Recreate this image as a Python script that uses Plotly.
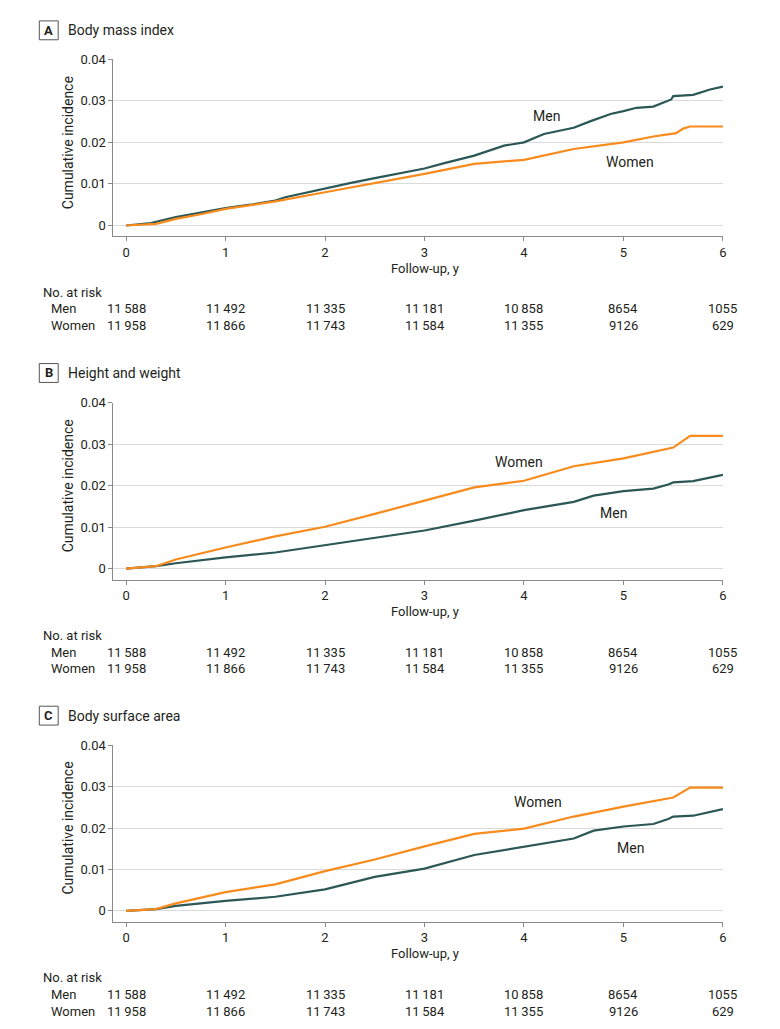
import plotly.graph_objects as go

# ---------------- data ----------------
panel_letters = ["A", "B", "C"]
panel_titles = ["Body mass index", "Height and weight", "Body surface area"]

# Panel A – Body mass index
a_men_t = [0, 0.1, 0.25, 0.5, 0.75, 1.0, 1.25, 1.5, 1.6, 2.0, 2.25, 2.5, 2.73, 3.0, 3.2, 3.5, 3.8, 4.0, 4.2, 4.5, 4.67, 4.87, 5.0, 5.13, 5.3, 5.4, 5.48, 5.5, 5.7, 5.87, 6.0]
a_men_v = [0, 0.0003, 0.0006, 0.0020, 0.0031, 0.0042, 0.0050, 0.0060, 0.0068, 0.0090, 0.0102, 0.0114, 0.0124, 0.0137, 0.0150, 0.0168, 0.0192, 0.0200, 0.0220, 0.0235, 0.0251, 0.0268, 0.0275, 0.0283, 0.0286, 0.0295, 0.0303, 0.0311, 0.0314, 0.0327, 0.0334]
a_women_t = [0, 0.25, 0.3, 0.5, 0.75, 1.0, 1.25, 1.5, 2.0, 2.25, 2.5, 3.0, 3.5, 4.0, 4.5, 5.0, 5.3, 5.53, 5.6, 5.67, 6.0]
a_women_v = [0, 0.0002, 0.0004, 0.0016, 0.0027, 0.0040, 0.0049, 0.0058, 0.0080, 0.0091, 0.0103, 0.0124, 0.0148, 0.0158, 0.0184, 0.0200, 0.0214, 0.0222, 0.0233, 0.0238, 0.0238]

# Panel B – Height and weight
b_men_t = [0, 0.3, 0.5, 1.0, 1.5, 2.0, 2.5, 3.0, 3.5, 4.0, 4.5, 4.7, 5.0, 5.3, 5.45, 5.5, 5.7, 6.0]
b_men_v = [0, 0.0006, 0.0013, 0.0027, 0.0039, 0.0057, 0.0074, 0.0092, 0.0116, 0.0141, 0.0161, 0.0176, 0.0187, 0.0193, 0.0203, 0.0208, 0.0211, 0.0226]
b_women_t = [0, 0.3, 0.5, 1.0, 1.5, 2.0, 2.5, 2.73, 3.0, 3.5, 4.0, 4.5, 5.0, 5.5, 5.6, 5.67, 6.0]
b_women_v = [0, 0.0006, 0.0022, 0.0051, 0.0078, 0.0101, 0.0132, 0.0146, 0.0164, 0.0196, 0.0212, 0.0247, 0.0266, 0.0292, 0.0308, 0.0320, 0.0320]

# Panel C – Body surface area
c_men_t = [0, 0.3, 0.5, 1.0, 1.5, 2.0, 2.5, 3.0, 3.5, 4.0, 4.5, 4.7, 5.0, 5.3, 5.45, 5.5, 5.7, 6.0]
c_men_v = [0, 0.0004, 0.0012, 0.0024, 0.0034, 0.0052, 0.0082, 0.0102, 0.0135, 0.0155, 0.0175, 0.0194, 0.0204, 0.0210, 0.0222, 0.0228, 0.0230, 0.0246]
c_women_t = [0, 0.3, 0.5, 1.0, 1.5, 2.0, 2.5, 3.0, 3.5, 4.0, 4.5, 5.0, 5.5, 5.6, 5.67, 6.0]
c_women_v = [0, 0.0004, 0.0018, 0.0045, 0.0064, 0.0096, 0.0124, 0.0156, 0.0186, 0.0199, 0.0228, 0.0252, 0.0274, 0.0288, 0.0298, 0.0298]

# label positions (data coords) for series labels
label_pos = [
    {"Men": (4.23, 0.0263), "Women": (5.07, 0.0152)},
    {"Men": (4.90, 0.0134), "Women": (3.95, 0.0256)},
    {"Men": (5.07, 0.0152), "Women": (4.14, 0.0262)},
]

x_ticks = [0, 1, 2, 3, 4, 5, 6]
y_ticks = [0, 0.01, 0.02, 0.03, 0.04]
y_tick_labels = ["0", "0.01", "0.02", "0.03", "0.04"]
risk_men = ["11\u2009588", "11\u2009492", "11\u2009335", "11\u2009181", "10\u2009858", "8654", "1055"]
risk_women = ["11\u2009958", "11\u2009866", "11\u2009743", "11\u2009584", "11\u2009355", "9126", "629"]

series = [
    (a_men_t, a_men_v, a_women_t, a_women_v),
    (b_men_t, b_men_v, b_women_t, b_women_v),
    (c_men_t, c_men_v, c_women_t, c_women_v),
]

# ---------------- style / layout ----------------
W, H = 780, 1029
FONT = "Roboto, Arial, sans-serif"
MEN_C = "#2b5856"
WOMEN_C = "#f98a1c"
AXIS_C = "#8a8a8a"
GRID_C = "#dadada"
TXT_C = "#231f20"

def px_x(px):
    return px / W

def px_y(py):
    return 1 - py / H

panels_geo = [(52.5, 231.0), (398.5, 576.5), (743.5, 921.0)]
title_y = [23.5, 368.5, 713.5]
ytitle_y = [136.5, 482.0, 826.5]
x_left_px, x_right_px = 114.0, 726.7

fig = go.Figure()
annotations = []
shapes = []

for i, (top, bot) in enumerate(panels_geo):
    n = "" if i == 0 else str(i + 1)
    xa = "x" + n
    ya = "y" + n
    mt, mv, wt, wv = series[i]
    fig.add_trace(go.Scatter(x=mt, y=mv, mode="lines", line=dict(color=MEN_C, width=2.2),
                             xaxis=xa, yaxis=ya, showlegend=False, hoverinfo="skip"))
    fig.add_trace(go.Scatter(x=wt, y=wv, mode="lines", line=dict(color=WOMEN_C, width=2.2),
                             xaxis=xa, yaxis=ya, showlegend=False, hoverinfo="skip"))

    px_per = (bot - 11.0 - top) / 0.04
    ymin = -11.0 / px_per
    fig.update_layout(**{
        ("xaxis" + n): dict(
            domain=[px_x(x_left_px), px_x(x_right_px)], anchor=ya,
            range=[-0.127, 6.0], tickvals=x_ticks, ticktext=[str(v) for v in x_ticks],
            showgrid=False, zeroline=False, showline=True, linecolor=AXIS_C, linewidth=1,
            ticks="outside", ticklen=4, tickcolor=AXIS_C, tickwidth=1,
            tickfont=dict(family=FONT, size=13, color=TXT_C), fixedrange=True,
        ),
        ("yaxis" + n): dict(
            domain=[px_y(bot), px_y(top)], anchor=xa,
            range=[ymin, 0.04], tickvals=y_ticks, ticktext=y_tick_labels,
            showgrid=True, gridcolor=GRID_C, gridwidth=1, zeroline=False,
            showline=True, linecolor=AXIS_C, linewidth=1,
            ticks="outside", ticklen=4, tickcolor=AXIS_C, tickwidth=1,
            tickfont=dict(family=FONT, size=13, color=TXT_C), fixedrange=True,
        ),
    })

    for name, (lx, ly) in label_pos[i].items():
        annotations.append(dict(x=lx, y=ly, xref=xa, yref=ya, text=name, showarrow=False,
                                font=dict(family=FONT, size=14, color=TXT_C)))

    shapes.append(dict(type="rect", xref="paper", yref="paper",
                       x0=px_x(39.5), x1=px_x(58.5), y0=px_y(title_y[i] + 9.5), y1=px_y(title_y[i] - 9.5),
                       line=dict(color="#555555", width=1), fillcolor="white"))
    annotations.append(dict(x=px_x(49), y=px_y(title_y[i]), xref="paper", yref="paper",
                            text="<b>" + panel_letters[i] + "</b>", showarrow=False,
                            xanchor="center", yanchor="middle",
                            font=dict(family=FONT, size=13, color=TXT_C)))
    annotations.append(dict(x=px_x(66), y=px_y(title_y[i]), xref="paper", yref="paper",
                            text=panel_titles[i], showarrow=False, xanchor="left", yanchor="middle",
                            font=dict(family=FONT, size=14, color=TXT_C)))

    annotations.append(dict(x=px_x(68), y=px_y(ytitle_y[i]), xref="paper", yref="paper",
                            text="Cumulative incidence", textangle=-90, showarrow=False,
                            xanchor="center", yanchor="middle",
                            font=dict(family=FONT, size=14, color=TXT_C)))
    annotations.append(dict(x=3, y=px_y(bot + 32), xref=xa, yref="paper",
                            text="Follow-up, y", showarrow=False, xanchor="center", yanchor="middle",
                            font=dict(family=FONT, size=13, color=TXT_C)))
    annotations.append(dict(x=px_x(41), y=px_y(bot + 56), xref="paper", yref="paper",
                            text="No. at risk", showarrow=False, xanchor="left", yanchor="middle",
                            font=dict(family=FONT, size=13, color=TXT_C)))
    annotations.append(dict(x=px_x(49), y=px_y(bot + 73), xref="paper", yref="paper",
                            text="Men", showarrow=False, xanchor="left", yanchor="middle",
                            font=dict(family=FONT, size=13, color=TXT_C)))
    annotations.append(dict(x=px_x(49), y=px_y(bot + 90), xref="paper", yref="paper",
                            text="Women", showarrow=False, xanchor="left", yanchor="middle",
                            font=dict(family=FONT, size=13, color=TXT_C)))
    for tv, rm, rw in zip(x_ticks, risk_men, risk_women):
        annotations.append(dict(x=tv, y=px_y(bot + 73), xref=xa, yref="paper", text=rm,
                                showarrow=False, xanchor="center", yanchor="middle",
                                font=dict(family=FONT, size=13, color=TXT_C)))
        annotations.append(dict(x=tv, y=px_y(bot + 90), xref=xa, yref="paper", text=rw,
                                showarrow=False, xanchor="center", yanchor="middle",
                                font=dict(family=FONT, size=13, color=TXT_C)))

fig.update_layout(
    width=W, height=H, margin=dict(l=0, r=0, t=0, b=0),
    paper_bgcolor="white", plot_bgcolor="white",
    annotations=annotations, shapes=shapes,
    font=dict(family=FONT, color=TXT_C),
)

fig.write_html(
    "out.html",
    config={"displayModeBar": False},
    post_script=(
        "document.documentElement.style.margin='0px';"
        "document.body.style.margin='0px';document.body.style.padding='0px';"
        "document.body.style.overflow='hidden';"
        "var gd=document.getElementById('{plot_id}');"
        "gd.style.position='fixed';gd.style.top='0px';gd.style.left='0px';"
    ),
)
